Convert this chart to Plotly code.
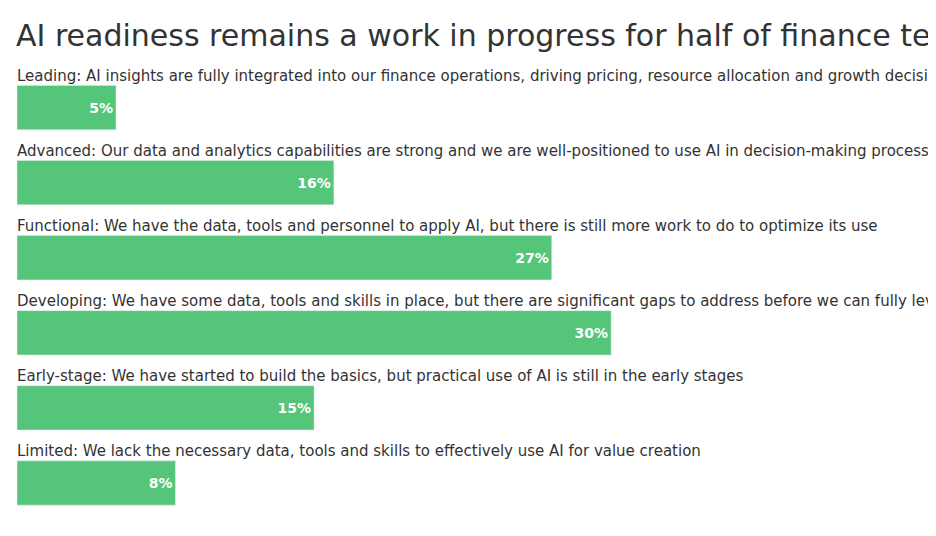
# ------------------ IMPORTS ------------------
import plotly.graph_objects as go

# ------------------ DATA ------------------
labels = [
    "Leading: AI insights are fully integrated into our finance operations, driving pricing, resource allocation and growth decisions",
    "Advanced: Our data and analytics capabilities are strong and we are well-positioned to use AI in decision-making processes",
    "Functional: We have the data, tools and personnel to apply AI, but there is still more work to do to optimize its use",
    "Developing: We have some data, tools and skills in place, but there are significant gaps to address before we can fully leverage AI",
    "Early-stage: We have started to build the basics, but practical use of AI is still in the early stages",
    "Limited: We lack the necessary data, tools and skills to effectively use AI for value creation",
]
values = [5, 16, 27, 30, 15, 8]
keys = ["Leading", "Advanced", "Functional", "Developing", "Early-stage", "Limited"]

GREEN = "#55C57A"
FONT = "DejaVu Sans, Noto Sans, sans-serif"

# ------------------ FIGURE ------------------
fig = go.Figure(go.Bar(
    x=values,
    y=keys,
    orientation="h",
    marker_color=GREEN,
    width=0.59,
    text=[f"{v}%" for v in values],
    textposition="inside",
    insidetextanchor="end",
    textfont=dict(color="white", size=14, family=FONT, weight="bold"),
    hoverinfo="skip",
))

# labels above each bar
for k, lab in zip(keys, labels):
    fig.add_annotation(
        x=0, y=k, xref="x", yref="y",
        text=lab, showarrow=False,
        xanchor="left", yanchor="middle", yshift=32, xshift=-2,
        font=dict(size=15, color="#333333", family=FONT),
    )

# title
fig.add_annotation(
    text="AI readiness remains a work in progress for half of finance teams",
    x=-3 / 911, y=1 + 35 / 456, xref="paper", yref="paper", showarrow=False,
    xanchor="left", yanchor="middle", font=dict(size=30, color="#333333", family=FONT),
)

# ------------------ LAYOUT ------------------
fig.update_layout(
    width=936, height=536,
    margin=dict(l=9, r=16, t=62, b=18),
    plot_bgcolor="white", paper_bgcolor="white",
    showlegend=False,
    xaxis=dict(range=[0, 46], visible=False),
    yaxis=dict(autorange="reversed", visible=False),
)

fig.write_html("out.html")
